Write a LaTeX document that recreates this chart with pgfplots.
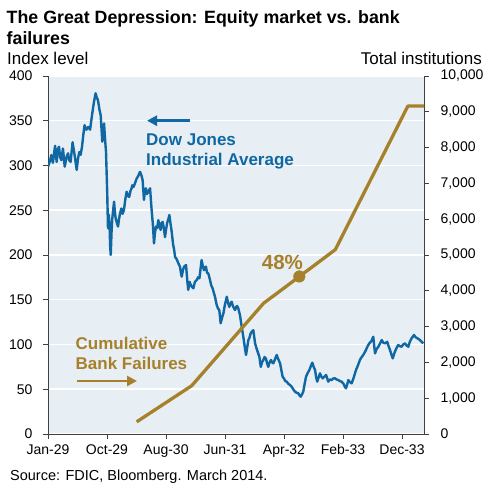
\documentclass[border=0pt]{standalone}
\usepackage{pgfplots}
\pgfplotsset{compat=1.18}
\usetikzlibrary{arrows.meta}
\usepackage{fontspec}
\setmainfont{Liberation Sans}
\definecolor{djblue}{HTML}{0F67A3}
\definecolor{bfgold}{HTML}{A6802A}
\definecolor{plotbg}{HTML}{E8EFF4}
\definecolor{axgray}{HTML}{404040}
\pgfplotstableread{
d v
0 298.7
10 305
17 311.7
25 303
36 322
44 304
50 318
56 321
62 309
68 306
76 319
85 298.7
95 310
102 313.6
108 306
115 304
125 326
135 312
146 295
152 307
159 315
166 312
173 321
180 335
186 345
195 340
205 343
214 340
220 350
225 358
233 370
242 380.7
248 376
254 373
262 362
268 356
276 326.6
285 347
290 330
295 315
301 270.7
305 230
309 245
313 233.5
316 210
319 200
323 225
327 241
336 259.6
340 248
344 241
350 236
356 231.7
361 240
366 246
373 252
379 246
386 250
393 262
400 270.7
406 266
413 265
420 272
425 274.5
429 278
435 276
442 280
450 285
458 288
468 293
475 289
481 283.8
488 261.5
493 272
498 274.5
503 268
510 270.7
519 274.5
527 250
533 235
539 213
544 225
549 231.7
555 230
561 239
567 232
573 228
578 236
583 237
589 230
595 220
600 228
606 236
612 240
617 244.7
623 235
629 226
636 212
642 205
646 198
655 195
663 190.7
671 187
676 180
680 175.8
686 183
692 187
702 188.8
708 172
713 161
720 170
726 166.5
733 164
739 162.8
747 170
756 172
763 175
770 174
776 185
781 194.4
787 188
793 183
798 186
803 187
809 180
815 179.5
824 172
830 166
837 162.8
843 158
849 153.4
858 144
865 140
871 138.5
875 130
878 123.7
885 130
892 134.9
900 145
906 150
909 153.4
915 147
922 142
928 146
934 147.8
940 143
945 141
951 138.5
957 142
962 143
968 140
976 133
985 120
993 108.7
1000 98
1007 88.3
1013 97
1019 105
1025 108
1030 112
1036 114.3
1044 116
1049 108
1053 101.3
1060 96
1069 90
1075 86
1082 75
1088 80
1095 82.7
1101 86
1108 84.5
1114 79
1120 75
1127 80
1134 82.7
1140 80
1146 79
1155 84
1163 88.3
1170 84
1180 79
1186 72
1193 64
1200 62
1207 59
1214 58.5
1222 56
1231 54.7
1239 52.8
1247 50
1256 47.3
1265 46
1273 45.4
1279 43
1285 41.7
1291 44
1298 47.3
1305 56
1312 64
1320 68
1329 71.5
1337 76
1344 79.7
1351 75
1358 71.5
1363 64
1369 58.5
1376 63
1383 67.8
1390 64
1397 62.2
1405 64
1414 66
1420 62
1425 58.5
1435 61
1443 60.3
1450 62
1459 62.2
1467 61
1476 60.3
1485 59
1493 58.5
1503 56
1509 53
1515 51
1521 55
1527 60.3
1535 58
1544 56.6
1553 62
1561 67.8
1567 72
1573 75
1580 79
1586 82.7
1595 86
1603 88.3
1610 91
1617 93.9
1625 98
1634 101.3
1645 104
1654 108.7
1658 100
1663 90
1671 95
1680 97.5
1688 101
1697 105
1705 102
1714 101.3
1725 103
1732 98
1739 93.9
1746 89
1753 84.5
1758 88
1764 92
1772 96
1781 99.4
1790 98
1798 97.5
1806 100
1815 101.3
1823 99
1832 97.5
1840 103
1849 107
1856 109
1861 110.6
1870 108
1878 107
1885 106
1891 105
1900 103
1908 101.3
}\dowdata
\pgfplotstableread{
d n
451 340
731 1350
1096 3650
1461 5150
1830 9160
1912 9160
}\bankdata
\begin{document}
\begin{tikzpicture}
\useasboundingbox (0pt,0pt) rectangle (484pt,494pt);
\pgfplotsset{
  common/.style={
    at={(48pt,60pt)}, anchor=south west,
    scale only axis, width=376pt, height=358pt,
    xmin=0, xmax=1912,
    tick align=outside, major tick length=5pt,
    tick style={axgray, line width=0.8pt},
    axis line style={axgray, line width=0.8pt},
    tick label style={font=\fontsize{14}{16}\selectfont},
    /pgf/number format/assume math mode=true,
  }
}
\begin{axis}[common,
  ymin=0, ymax=400,
  axis x line*=bottom, axis y line*=left,
  axis background/.style={fill=plotbg},
  xtick={0,300,...,1800},
  xticklabels={Jan-29,Oct-29,Aug-30,Jun-31,Apr-32,Feb-33,Dec-33},
  xticklabel style={yshift=-2pt},
  ytick={0,50,...,400},
  yticklabel style={xshift=-7pt},
  ymajorgrids, grid style={white, line width=1.5pt},
]
\addplot[djblue, line width=2.4pt, line join=round] table[x=d,y=v]{\dowdata};
\end{axis}
\begin{axis}[common,
  ymin=0, ymax=10000,
  axis y line*=right, hide x axis,
  ytick={0,1000,...,10000},
  scaled y ticks=false,
  yticklabel style={xshift=8pt, /pgf/number format/.cd, fixed, 1000 sep={,}},
]
\addplot[bfgold, line width=3.3pt, line join=round] table[x=d,y=n]{\bankdata};
\addplot[bfgold, only marks, mark=*, mark size=5.8pt] coordinates {(1278,4400)};
\end{axis}
% annotations
\node[anchor=base west, inner sep=0, font=\fontsize{17.8}{22}\selectfont\bfseries] at (6.5pt,470pt) {The Great Depression: Equity market vs. bank};
\node[anchor=base west, inner sep=0, font=\fontsize{17.8}{22}\selectfont\bfseries] at (6.5pt,449.7pt) {failures};
\node[anchor=base west, inner sep=0, font=\fontsize{17}{20}\selectfont] at (7pt,429pt) {Index level};
\node[anchor=base east, inner sep=0, font=\fontsize{17}{20}\selectfont] at (482pt,429pt) {Total institutions};
\node[anchor=base west, inner sep=0, font=\fontsize{14.5}{16}\selectfont] at (10pt,13pt) {Source: FDIC, Bloomberg. March 2014.};
\node[anchor=base west, inner sep=0, text=djblue, font=\fontsize{17}{20}\selectfont\bfseries] at (146pt,348.3pt) {Dow Jones};
\node[anchor=base west, inner sep=0, text=djblue, font=\fontsize{17}{20}\selectfont\bfseries] at (146pt,328.3pt) {Industrial Average};
\draw[djblue, line width=2.5pt, -{Triangle[length=10pt,width=10pt]}] (190pt,373.3pt) -- (147pt,373.3pt);
\node[anchor=base west, inner sep=0, text=bfgold, font=\fontsize{17}{20}\selectfont\bfseries] at (75.5pt,144.7pt) {Cumulative};
\node[anchor=base west, inner sep=0, text=bfgold, font=\fontsize{17}{20}\selectfont\bfseries] at (75.5pt,124.7pt) {Bank Failures};
\draw[bfgold, line width=2.5pt, -{Triangle[length=10pt,width=10pt]}] (77pt,113pt) -- (137pt,113pt);
\node[anchor=base west, inner sep=0, text=bfgold, font=\fontsize{20.5}{24}\selectfont\bfseries] at (261.7pt,224.7pt) {48\%};
\end{tikzpicture}
\end{document}
